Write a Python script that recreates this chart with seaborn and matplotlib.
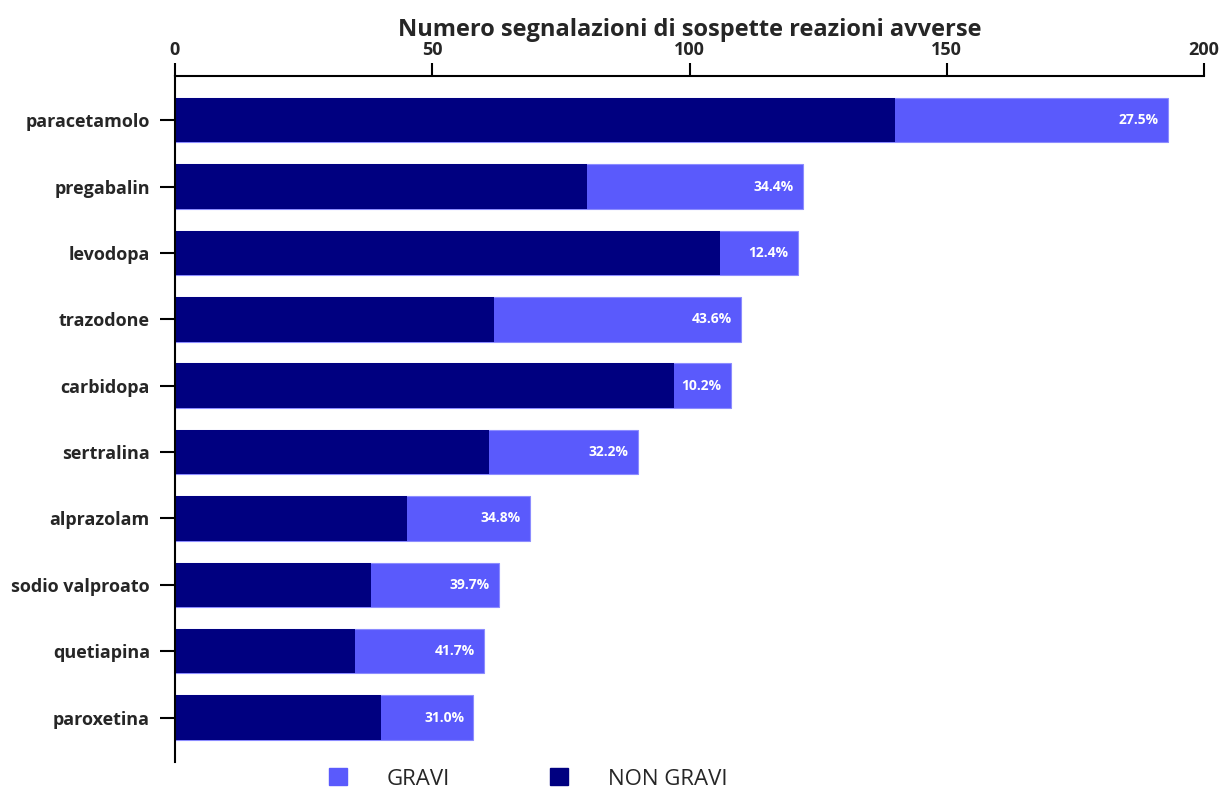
import matplotlib
matplotlib.use("Agg")
import matplotlib.pyplot as plt
import seaborn as sns
import pandas as pd
from matplotlib.patches import Patch

farmaci = ["paracetamolo", "pregabalin", "levodopa", "trazodone", "carbidopa",
           "sertralina", "alprazolam", "sodio valproato", "quetiapina", "paroxetina"]
non_gravi = [140, 80, 106, 62, 97, 61, 45, 38, 35, 40]
gravi = [53, 42, 15, 48, 11, 29, 24, 25, 25, 18]
x_ticks = [0, 50, 100, 150, 200]

COL_GRAVI = "#5A5AFC"
COL_NON = "#000080"

df = pd.DataFrame({"farmaco": farmaci, "non_gravi": non_gravi, "gravi": gravi})
df["totale"] = df["non_gravi"] + df["gravi"]
df["pct"] = df["gravi"] / df["totale"] * 100

sns.set_theme(style="white")
plt.rcParams["font.family"] = ["Open Sans", "DejaVu Sans"]

W, H = 1221, 792
fig = plt.figure(figsize=(W / 100, H / 100), dpi=100)
ax = fig.add_axes([175 / W, 1 - 762 / H, (1204 - 175) / W, (762 - 76) / H])

sns.barplot(data=df, y="farmaco", x="totale", order=farmaci, color=COL_GRAVI,
            orient="h", width=0.67, saturation=1, ax=ax,
            edgecolor="#8C8CFF", linewidth=0.8)
sns.barplot(data=df, y="farmaco", x="non_gravi", order=farmaci, color=COL_NON,
            orient="h", width=0.67, saturation=1, ax=ax, linewidth=0)

for i, row in df.iterrows():
    ax.text(row["totale"] - 1.8, i, f"{row['pct']:.1f}%", ha="right", va="center",
            color="white", fontsize=10, fontweight="bold")

ax.set_xlim(0, 200)
ax.set_ylim(9.67, -0.665)
ax.set_xticks(x_ticks)
ax.xaxis.tick_top()
ax.xaxis.set_label_position("top")
ax.set_xlabel("Numero segnalazioni di sospette reazioni avverse", fontsize=17,
              fontweight="bold", labelpad=3)
ax.set_ylabel("")
for s in ["right", "bottom"]:
    ax.spines[s].set_visible(False)
for s in ["top", "left"]:
    ax.spines[s].set_color("black")
    ax.spines[s].set_linewidth(1.5)
ax.tick_params(axis="x", top=True, bottom=False, direction="out", length=9.5,
               width=1.5, color="black", labelsize=13, pad=3)
ax.tick_params(axis="y", left=True, direction="out", length=11, width=1.5,
               color="black", labelsize=13, pad=7)
for lab in ax.get_xticklabels() + ax.get_yticklabels():
    lab.set_fontweight("bold")
ax.grid(False)

handles = [Patch(color=COL_GRAVI, label="GRAVI"), Patch(color=COL_NON, label="NON GRAVI")]
fig.legend(handles=handles, loc="center", bbox_to_anchor=(528 / W, 1 - 779 / H),
           ncol=2, frameon=False, fontsize=16, handlelength=0.8, handleheight=0.8,
           columnspacing=4.5, handletextpad=1.8, borderpad=0)

fig.savefig("out.png", dpi=100)
